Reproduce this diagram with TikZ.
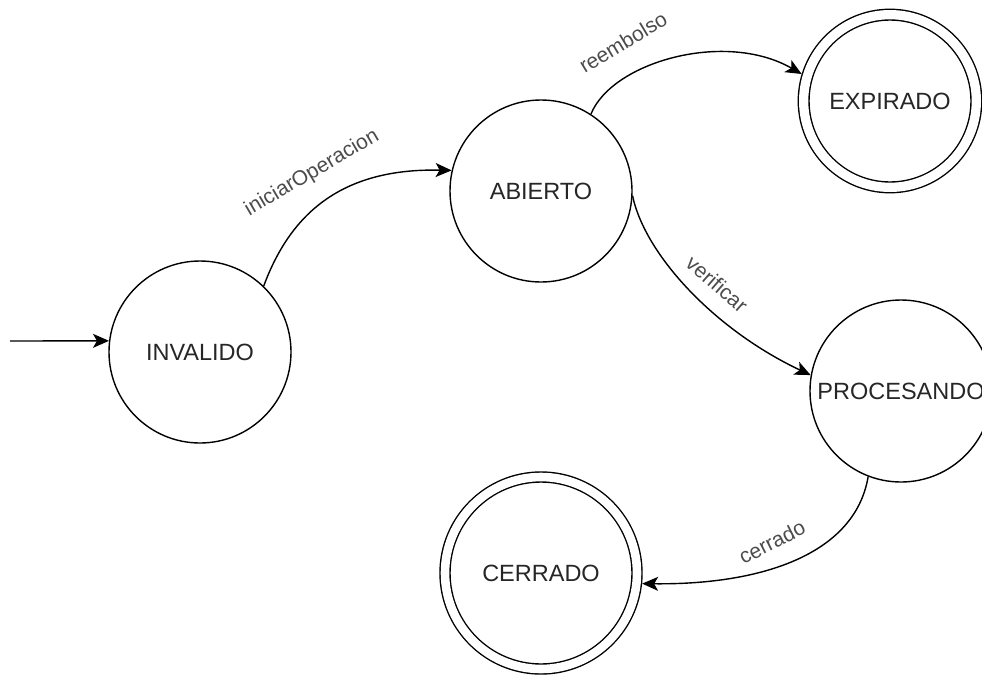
\documentclass[tikz,border=0pt]{standalone}
\usepackage{fontspec}
\setmainfont[Ligatures=NoCommon]{Liberation Sans}
\usetikzlibrary{arrows.meta}
\begin{document}
\begin{tikzpicture}[x=1pt,y=-1pt,
  stnode/.style={circle, draw, line width=1.4pt, minimum size=182pt, inner sep=0pt,
                 font=\fontsize{23.5}{27}\selectfont, text=black!85},
  finalstate/.style={stnode, double, double distance=#1},
  trans/.style={line width=1.4pt, -{Stealth[length=16pt,width=14pt,inset=4pt]}},
  elabel/.style={font=\fontsize{21}{24}\selectfont, text=black!70, inner sep=0pt},
]
\useasboundingbox (0,0) rectangle (982,675);

% states
\node[stnode] (inv) at (200,352) {INVALIDO};
\node[stnode] (ab) at (541,191) {ABIERTO};
\node[stnode] (pr) at (901,391) {PROCESANDO};
\node[finalstate=9.3pt, minimum size=172.7pt, outer sep=6pt] (ex) at (890,101) {EXPIRADO};
\node[finalstate=8.6pt, minimum size=192pt, outer sep=5.7pt] (ce) at (541,573) {CERRADO};

% initial arrow
\coordinate (init) at (10,341);
\draw[trans] (init) -- (inv.173);

% transitions
\draw[trans] (inv.46) .. controls (290,215) and (340,168) .. (ab.167);
\draw[trans] (ab.57) .. controls (612,62) and (725,30) .. (ex.163);
\draw[trans] (ab.-3) .. controls (645,255) and (715,330) .. (pr.170);
\draw[trans] (pr.-111) .. controls (855,555) and (760,585) .. (ce.-6);

% transition labels
\node[elabel, rotate=30.5] (l1) at (312,173) {iniciarOperacion};
\node[elabel, rotate=31] (l2) at (623,42) {reembolso};
\node[elabel, rotate=-41] (l3) at (717,284) {verificar};
\node[elabel, rotate=27] (l4) at (772,542) {cerrado};
\end{tikzpicture}
\end{document}
